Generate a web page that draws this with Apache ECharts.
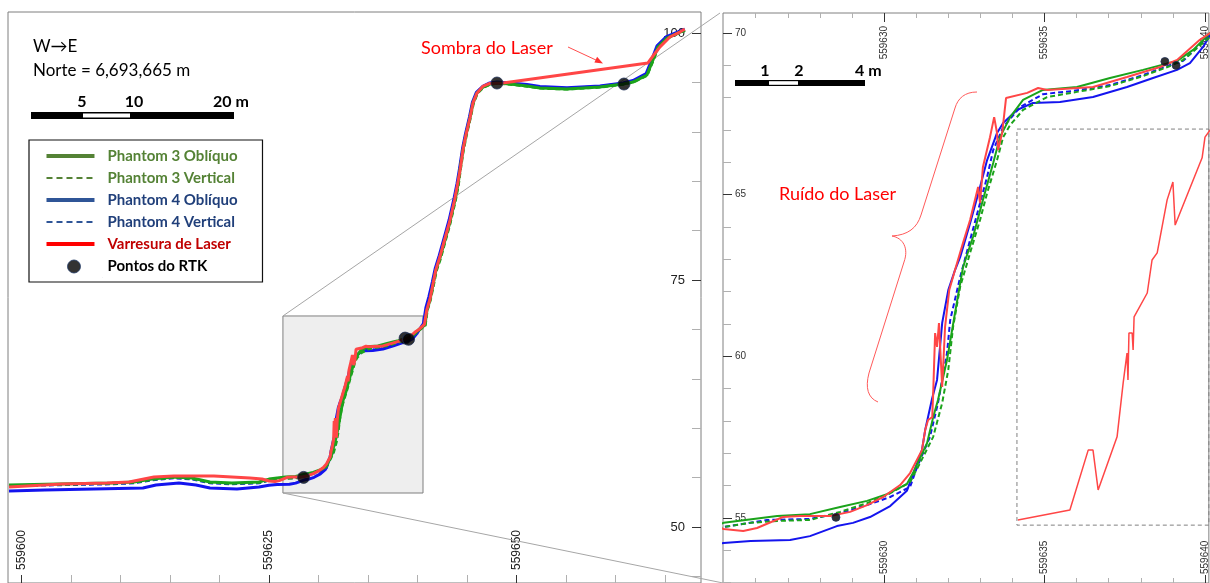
<!DOCTYPE html>
<html><head><meta charset="utf-8">
<script src="https://cdn.jsdelivr.net/npm/echarts@6/dist/echarts.min.js"></script>
<style>html,body{margin:0;padding:0;background:#fff}#c{width:1210px;height:583px}</style>
</head><body><div id="c"></div>
<script>
// ---------- DATA (Easting, Elevation) ----------
const P3_OBLIQUO = [[559598.74,54.25],[559603.69,54.35],[559609.14,54.45],[559611.36,54.55],[559613.18,54.86],[559615.40,55.06],[559617.22,54.96],[559619.04,54.55],[559621.26,54.45],[559623.99,54.55],
[559625.00,54.85],[559626.67,55.06],[559627.69,55.12],[559628.63,55.34],[559629.47,55.53],[559630.09,55.74],[559630.71,56.05],[559630.90,56.39],[559631.34,57.32],[559631.53,58.12],[559631.68,58.65],[559631.96,59.89],[559632.21,61.34],[559632.46,62.76],[559632.77,63.69],[559633.08,64.84],[559633.40,65.98],[559633.61,66.78],[559633.93,67.40],[559634.33,67.93],[559634.95,68.24],[559636.01,68.33],[559637.04,68.61],[559638.07,68.86],[559639.13,69.14],[559639.63,69.48],[559640.16,70.00],
[559640.76,70.45],[559640.96,71.96],[559641.26,72.98],[559641.57,74.49],[559641.87,76.01],[559642.27,77.23],[559642.78,79.05],[559643.28,80.87],[559643.79,83.10],[559644.09,84.62],[559644.29,86.13],[559644.60,88.16],[559644.90,89.68],[559645.30,91.40],[559645.61,92.91],[559646.01,93.93],[559646.62,94.53],[559647.32,94.84],[559648.03,94.94],[559649.34,94.84],[559651.06,94.64],[559652.37,94.43],[559655.10,94.33],[559658.43,94.53],[559660.76,94.84],[559661.77,95.04],[559663.18,95.75],[559663.79,97.27],[559664.29,98.58],[559665.20,99.49],[559666.52,100.10],[559667.02,100.30]];

const P3_VERTICAL = [[559598.74,54.20],[559603.69,54.30],[559609.14,54.40],[559611.36,54.50],[559613.18,54.80],[559615.40,55.00],[559617.22,54.90],[559619.04,54.50],[559621.26,54.40],[559623.99,54.50],
[559625.00,54.72],[559625.84,54.85],[559626.67,54.91],[559627.69,54.94],[559628.63,55.19],[559629.47,55.46],[559630.09,55.71],[559630.81,56.11],[559631.12,56.70],[559631.53,57.51],[559631.81,58.56],[559632.00,59.58],[559632.15,60.91],[559632.37,62.15],[559632.68,63.20],[559632.99,64.22],[559633.21,65.05],[559633.52,66.07],[559633.71,66.78],[559633.93,67.16],[559634.33,67.62],[559635.08,68.02],[559636.01,68.18],[559637.04,68.36],[559638.07,68.67],[559638.91,68.98],[559639.32,69.17],[559640.16,69.88],
[559640.80,70.40],[559641.00,71.90],[559641.30,72.90],[559641.62,74.40],[559641.92,75.90],[559642.32,77.10],[559642.83,78.95],[559643.33,80.80],[559643.84,83.00],[559644.14,84.55],[559644.34,86.05],[559644.65,88.10],[559644.95,89.60],[559645.35,91.35],[559645.66,92.85],[559646.06,93.88],[559646.67,94.50],[559647.37,94.80],[559648.03,94.90],[559649.34,94.80],[559651.06,94.60],[559652.37,94.40],[559655.10,94.30],[559658.43,94.50],[559660.76,94.80],[559661.77,95.00],[559663.20,95.70],[559663.82,97.20],[559664.32,98.50],[559665.23,99.45],[559666.55,100.05],[559667.02,100.25]];

const P4_OBLIQUO = [[559598.74,53.64],[559602.37,53.74],[559602.47,53.85],[559612.27,53.95],[559613.59,54.25],[559615.91,54.45],[559617.63,54.25],[559619.04,53.95],[559621.77,53.85],[559623.99,54.05],
[559625.00,54.23],[559625.84,54.29],[559627.07,54.32],[559627.69,54.44],[559628.53,54.75],[559629.03,54.85],[559629.56,55.03],[559630.19,55.37],[559630.71,55.84],[559631.18,57.10],[559631.28,57.72],[559631.50,58.71],[559631.65,59.27],[559631.81,61.03],[559632.00,62.05],[559632.21,62.67],[559632.37,63.07],[559632.68,64.12],[559632.99,65.24],[559633.21,66.07],[559633.52,66.91],[559633.71,67.22],[559634.14,67.62],[559634.64,67.84],[559635.48,67.87],[559636.51,68.02],[559637.57,68.33],[559638.38,68.61],[559639.13,68.86],[559639.53,69.07],[559639.94,69.57],[559640.16,69.94],
[559640.60,70.60],[559640.85,72.20],[559641.15,73.30],[559641.50,74.80],[559641.80,76.20],[559642.20,77.50],[559642.70,79.30],[559643.20,81.10],[559643.70,83.30],[559644.00,84.80],[559644.25,86.30],[559644.55,88.30],[559644.85,89.80],[559645.25,91.50],[559645.55,93.00],[559645.95,94.00],[559646.60,94.60],[559647.30,94.95],[559648.03,95.05],[559649.34,94.95],[559651.06,94.80],[559652.37,94.60],[559655.10,94.45],[559658.43,94.65],[559660.76,94.95],[559661.77,95.20],[559663.10,95.90],[559663.70,97.40],[559664.20,98.70],[559665.10,99.60],[559666.50,100.20],[559667.00,100.40]];

const P4_VERTICAL = [[559598.74,54.15],[559603.69,54.25],[559609.14,54.35],[559611.36,54.45],[559613.18,54.75],[559615.40,54.95],[559617.22,54.85],[559619.04,54.45],[559621.26,54.35],[559623.99,54.45],
[559625.00,54.72],[559626.35,54.94],[559627.69,54.97],[559628.63,55.15],[559629.47,55.40],[559630.19,55.65],[559630.81,55.96],[559631.03,56.58],[559631.43,57.51],[559631.68,58.56],[559631.96,60.10],[559632.06,61.12],[559632.37,62.45],[559632.68,63.60],[559632.99,64.74],[559633.21,65.55],[559633.40,66.38],[559633.71,67.09],[559634.24,67.71],[559634.95,68.11],[559635.89,68.21],[559637.04,68.39],[559638.07,68.70],[559638.91,69.01],[559639.32,69.14],[559640.16,69.94],
[559640.70,70.50],[559640.90,72.05],[559641.20,73.10],[559641.52,74.60],[559641.82,76.10],[559642.22,77.35],[559642.73,79.15],[559643.23,80.95],[559643.74,83.20],[559644.04,84.70],[559644.27,86.20],[559644.57,88.20],[559644.87,89.75],[559645.27,91.45],[559645.58,92.95],[559645.98,93.95],[559646.60,94.58],[559647.30,94.90],[559648.03,95.00],[559649.34,94.90],[559651.06,94.72],[559652.37,94.52],[559655.10,94.40],[559658.43,94.60],[559660.76,94.90],[559661.77,95.12],[559663.14,95.82],[559663.75,97.33],[559664.25,98.64],[559665.15,99.55],[559666.50,100.15],[559667.00,100.35]];

const LASER = [[559598.74,54.05],[559604.09,54.35],[559608.64,54.45],[559610.86,54.55],[559613.38,55.06],[559615.40,55.16],[559619.44,55.16],[559623.08,54.96],[559624.30,54.86],
[559625.00,54.66],[559625.61,54.60],[559626.04,54.69],[559626.85,55.03],[559627.38,55.06],[559628.32,55.06],[559628.94,55.19],[559629.47,55.40],[559629.97,55.65],[559630.50,56.02],[559630.81,56.39],[559631.18,57.10],[559631.28,57.72],[559631.37,58.03],[559631.50,58.12],[559631.53,58.87],[559631.59,60.72],[559631.65,60.29],[559631.71,61.03],[559631.81,59.05],[559631.90,60.91],[559632.03,62.05],[559632.21,62.67],[559632.46,63.51],[559632.68,64.22],[559632.93,65.24],[559632.99,64.74],[559633.08,65.86],[559633.30,66.78],[559633.43,67.40],[559633.52,66.91],[559633.55,66.38],[559633.68,66.91],[559633.80,67.99],[559634.46,68.15],[559634.80,68.30],[559635.08,68.24],[559636.51,68.33],[559637.57,68.64],[559638.60,68.95],[559639.13,69.17],[559639.84,69.79],[559640.16,70.00],
[559640.70,70.50],[559640.95,72.00],[559641.25,73.00],[559641.55,74.50],[559641.85,76.00],[559642.25,77.30],[559642.75,79.10],[559643.25,80.90],[559643.75,83.10],[559644.05,84.70],[559644.30,86.10],[559644.60,88.20],[559644.90,89.70],[559645.30,91.40],[559645.60,92.90],[559646.00,93.90],[559646.60,94.60],[559647.30,94.90],[559648.64,94.94],[559663.28,96.97],[559663.80,97.70],[559664.50,98.60],[559665.50,99.60],[559666.50,100.10],[559667.00,100.40]];

const LASER_INSET = [[559634.17,54.94],[559635.79,55.25],[559636.36,57.10],[559636.51,57.10],[559636.67,55.87],[559637.26,57.51],[559637.45,59.18],[559637.57,60.10],[559637.60,59.27],[559637.63,60.72],[559637.73,60.72],[559637.76,60.20],[559637.79,61.22],[559638.20,61.96],[559638.35,62.98],[559638.51,63.20],[559638.82,64.84],[559639.00,65.39],[559639.07,64.06],[559639.91,66.14],[559640.00,66.78],[559640.16,67.00]];

const RTK = [[559628.50,55.02],[559638.75,69.12],[559639.10,69.00],[559648.03,94.94],[559660.86,94.84]];

const ZOOM_BOX = [[559626.41,71.36],[559640.56,53.44]];
const INSET_BOX = [[559634.14,67.03],[559642.00,54.78]];

// tick values
const LEFT_X_MAJOR = [559600,559625,559650];
const LEFT_X_MINOR = [559605,559610,559615,559620,559630,559635,559640,559645,559655,559660,559665];
const LEFT_Y_MAJOR = [50,75,100];
const LEFT_Y_MINOR = [45,55,60,65,70,80,85,90,95];
const RIGHT_X_MAJOR = [559630,559635,559640];
const RIGHT_X_MINOR = [559626,559627,559628,559629,559631,559632,559633,559634,559636,559637,559638,559639];
const RIGHT_Y_MAJOR = [55,60,65,70];
const RIGHT_Y_MINOR = [53,54,56,57,58,59,61,62,63,64,66,67,68,69];

// ---------- CHART ----------
const LX = {min:559598.64, max:559668.64}, LY = {min:44.33, max:102.13};
const RX = {min:559624.98, max:559640.12}, RY = {min:52.99, max:70.62};
const C_GREEN = '#1ba31b', C_BLUE = '#1414ee', C_RED = '#ff4646';
const FONT_AX = 'Liberation Sans, Arial, sans-serif';

function ax(o){
  return Object.assign({type:'value', splitLine:{show:false}, axisLine:{show:false},
    axisPointer:{show:false}}, o);
}
function ticks(vals, len, color){ return {show:true, inside:true, length:len, customValues:vals, lineStyle:{color, width:1}}; }
function labels(vals, o){ return Object.assign({show:true, inside:true, customValues:vals, fontFamily:FONT_AX, formatter:v=>String(v)}, o); }
const noLab = {show:false};

const xAxis = [
  ax({gridIndex:0, position:'bottom', min:LX.min, max:LX.max, axisTick:ticks(LEFT_X_MAJOR,8,'#333'), axisLabel:labels(LEFT_X_MAJOR,{rotate:90, margin:13, fontSize:12, color:'#222'})}),
  ax({gridIndex:0, position:'bottom', min:LX.min, max:LX.max, axisTick:ticks(LEFT_X_MINOR,8,'#b0b0b0'), axisLabel:noLab}),
  ax({gridIndex:1, position:'top', min:RX.min, max:RX.max, axisTick:ticks(RIGHT_X_MAJOR,9,'#333'), axisLabel:labels(RIGHT_X_MAJOR,{rotate:-90, margin:13, fontSize:10, color:'#333'})}),
  ax({gridIndex:1, position:'top', min:RX.min, max:RX.max, axisTick:ticks(RIGHT_X_MINOR,5,'#b0b0b0'), axisLabel:noLab}),
  ax({gridIndex:1, position:'bottom', min:RX.min, max:RX.max, axisTick:ticks(RIGHT_X_MAJOR,8,'#333'), axisLabel:labels(RIGHT_X_MAJOR,{rotate:90, margin:9, fontSize:10, color:'#333'})}),
  ax({gridIndex:1, position:'bottom', min:RX.min, max:RX.max, axisTick:ticks(RIGHT_X_MINOR,5,'#b0b0b0'), axisLabel:noLab})
];
const yAxis = [
  ax({gridIndex:0, position:'right', min:LY.min, max:LY.max, axisTick:ticks(LEFT_Y_MAJOR,9,'#333'), axisLabel:labels(LEFT_Y_MAJOR,{margin:16, fontSize:13, color:'#222'})}),
  ax({gridIndex:0, position:'right', min:LY.min, max:LY.max, axisTick:ticks(LEFT_Y_MINOR,9,'#b0b0b0'), axisLabel:noLab}),
  ax({gridIndex:1, position:'left', min:RY.min, max:RY.max, axisTick:ticks(RIGHT_Y_MAJOR,9,'#333'), axisLabel:labels(RIGHT_Y_MAJOR,{margin:12, fontSize:10, color:'#333'})}),
  ax({gridIndex:1, position:'left', min:RY.min, max:RY.max, axisTick:ticks(RIGHT_Y_MINOR,8,'#b0b0b0'), axisLabel:noLab})
];

function line(name, data, right, color, width, dashed){
  return {name, type:'line', data, xAxisIndex: right?2:0, yAxisIndex: right?2:0,
    symbol:'none', showSymbol:false, silent:true, animation:false, clip:true,
    lineStyle:{color, width, type: dashed?[5,3]:'solid'}, itemStyle:{color}, z:2};
}
function rtk(right){
  return {name:'Pontos do RTK', type:'scatter', data:RTK, xAxisIndex: right?2:0, yAxisIndex: right?2:0,
    symbol:'circle', symbolSize: right?8:12, silent:true, animation:false, clip:true,
    itemStyle:{color:'#000', borderColor:'#1f2f55', borderWidth:1}, z:3};
}

const series = [];
[false,true].forEach(r=>{
  const w = r?2:3, wd = r?2:2.5;
  series.push(line('Phantom 4 Oblíquo', P4_OBLIQUO, r, C_BLUE, w, false));
  series.push(line('Phantom 4 Vertical', P4_VERTICAL, r, C_BLUE, wd, true));
  series.push(line('Phantom 3 Vertical', P3_VERTICAL, r, C_GREEN, wd, true));
  series.push(line('Phantom 3 Oblíquo', P3_OBLIQUO, r, C_GREEN, w, false));
  series.push(line('Varresura de Laser', LASER, r, C_RED, w, false));
  series.push(rtk(r));
});
series.push(line('Varresura de Laser', LASER_INSET, true, C_RED, 1.5, false));
// zoom box overlay (left panel)
series.push({type:'line', xAxisIndex:0, yAxisIndex:0, data:[ZOOM_BOX[0]], symbol:'none', showSymbol:false,
  lineStyle:{opacity:0}, silent:true, animation:false, z:10,
  markArea:{silent:true, itemStyle:{color:'rgba(222,222,222,0.5)', borderColor:'#7f7f7f', borderWidth:1},
    data:[[{coord:ZOOM_BOX[0]},{coord:ZOOM_BOX[1]}]]}});
// inset box (right panel)
series.push({type:'line', xAxisIndex:2, yAxisIndex:2, data:[INSET_BOX[0]], symbol:'none', showSymbol:false,
  lineStyle:{opacity:0}, silent:true, animation:false, z:1,
  markArea:{silent:true, itemStyle:{color:'rgba(0,0,0,0)', borderColor:'#808080', borderWidth:1, borderType:[4,3]},
    data:[[{coord:INSET_BOX[0]},{coord:INSET_BOX[1]}]]}});

const A = 'M0,0h0.01v0.01h-0.01z M56,22h0.01v0.01h-0.01z ';
const ICON_SOLID = 'path://' + A + 'M0,9h48v4h-48z';
const ICON_DASH = 'path://' + A + 'M0,10h6v2h-6z M10,10h6v2h-6z M20,10h6v2h-6z M30,10h6v2h-6z M40,10h6v2h-6z';
const ICON_DOT = 'path://' + A + 'M21,11a6.5,6.5 0 1,0 13,0a6.5,6.5 0 1,0 -13,0z';
const LG = '#548235', LB = '#2f5597';

const option = {
  animation:false,
  backgroundColor:'#fff',
  grid:[
    {left:8, top:12, width:693, height:571, show:true, borderColor:'#7f7f7f', borderWidth:1, backgroundColor:'transparent'},
    {left:723, top:13, width:486, height:570, show:true, borderColor:'#808080', borderWidth:1, backgroundColor:'transparent'}
  ],
  xAxis, yAxis, series,
  legend:{
    orient:'vertical', left:29, top:140, selectedMode:false,
    itemWidth:56, itemHeight:22, itemGap:0, padding:[5,10,4,17],
    borderColor:'#111', borderWidth:1.2, backgroundColor:'#fff',
    textStyle:{fontFamily:'Lato, sans-serif', fontWeight:'bold', fontSize:15, lineHeight:22, width:145, overflow:'none'},
    data:[
      {name:'Phantom 3 Oblíquo', icon:ICON_SOLID, itemStyle:{color:LG, borderWidth:0}, textStyle:{color:LG}},
      {name:'Phantom 3 Vertical', icon:ICON_DASH, itemStyle:{color:LG, borderWidth:0}, textStyle:{color:LG}},
      {name:'Phantom 4 Oblíquo', icon:ICON_SOLID, itemStyle:{color:LB, borderWidth:0}, textStyle:{color:'#203f7a'}},
      {name:'Phantom 4 Vertical', icon:ICON_DASH, itemStyle:{color:LB, borderWidth:0}, textStyle:{color:'#203f7a'}},
      {name:'Varresura de Laser', icon:ICON_SOLID, itemStyle:{color:'#ff0000', borderWidth:0}, textStyle:{color:'#c00000'}},
      {name:'Pontos do RTK', icon:ICON_DOT, itemStyle:{color:'#000', borderColor:'#1f3864', borderWidth:1}, textStyle:{color:'#000'}}
    ]
  }
};

const chart = echarts.init(document.getElementById('c'));
chart.setOption(option);

const p1 = chart.convertToPixel({xAxisIndex:0, yAxisIndex:0}, ZOOM_BOX[0]);
const p2 = chart.convertToPixel({xAxisIndex:0, yAxisIndex:0}, [ZOOM_BOX[0][0], ZOOM_BOX[1][1]]);
const q1 = chart.convertToPixel({xAxisIndex:2, yAxisIndex:2}, [RX.min, RY.max]);
const q2 = chart.convertToPixel({xAxisIndex:2, yAxisIndex:2}, [RX.min, RY.min]);

function txt(x, y, text, size, color, weight){
  return {type:'text', x, y, z:100, silent:true, style:{text, fill:color, fontSize:size, fontFamily:'Lato, DejaVu Sans, sans-serif', fontWeight:weight||'normal', align:'left', verticalAlign:'middle'}};
}
function ctxt(x, y, text, size){
  return {type:'text', x, y, z:100, silent:true, style:{text, fill:'#000', fontSize:size, fontFamily:'Lato, sans-serif', fontWeight:'bold', align:'center', verticalAlign:'middle'}};
}
function rect(x, y, w, h, fill){ return {type:'rect', z:100, silent:true, shape:{x, y, width:w, height:h}, style:{fill}}; }
const BRACE_STYLE = {stroke:'#ff5a5a', lineWidth:1, fill:null};
function bz(x1,y1,c1x,c1y,c2x,c2y,x2,y2){ return {type:'bezierCurve', z:100, silent:true, shape:{x1,y1,cpx1:c1x,cpy1:c1y,cpx2:c2x,cpy2:c2y,x2,y2}, style:BRACE_STYLE}; }
function ln(x1,y1,x2,y2){ return {type:'line', z:100, silent:true, shape:{x1,y1,x2,y2}, style:BRACE_STYLE}; }

const graphic = [
  {type:'line', z:1, silent:true, shape:{x1:p1[0], y1:p1[1], x2:q1[0]-3, y2:q1[1]}, style:{stroke:'#a6a6a6', lineWidth:1}},
  {type:'line', z:1, silent:true, shape:{x1:p2[0], y1:p2[1], x2:q2[0], y2:q2[1]}, style:{stroke:'#a6a6a6', lineWidth:1}},
  txt(33, 47, 'W→E', 17, '#000'),
  txt(33, 71, 'Norte = 6,693,665 m', 17, '#000'),
  rect(31, 112, 203, 7, '#000'), rect(83, 113.6, 47, 4, '#fff'),
  ctxt(82, 102, '5', 16), ctxt(134, 102, '10', 16), txt(213, 102, '20 m', 16, '#000', 'bold'),
  rect(735, 80, 130, 6, '#000'), rect(769, 81.2, 29, 3.6, '#fff'),
  ctxt(765, 71, '1', 16), ctxt(799, 71, '2', 16), txt(855, 71, '4 m', 16, '#000', 'bold'),
  txt(421, 48, 'Sombra do Laser', 18, '#ff0000'),
  {type:'line', z:100, silent:true, shape:{x1:568, y1:47, x2:597, y2:60.5}, style:{stroke:'#ff4d4d', lineWidth:1}},
  {type:'polygon', z:100, silent:true, shape:{points:[[603,63.5],[594.4,62.6],[597.1,56.8]]}, style:{fill:'#ff3030'}},
  txt(779, 194, 'Ruído do Laser', 18, '#ff0000'),
  bz(977,92, 965,92, 958,98, 955,108),
  ln(955,108, 921,215),
  bz(921,215, 917,228, 908,235, 892,236),
  bz(892,236, 903,238, 909,248, 904,262),
  ln(904,262, 869,373),
  bz(869,373, 865,388, 868,398, 878,402)
];
chart.setOption({graphic});
</script></body></html>
